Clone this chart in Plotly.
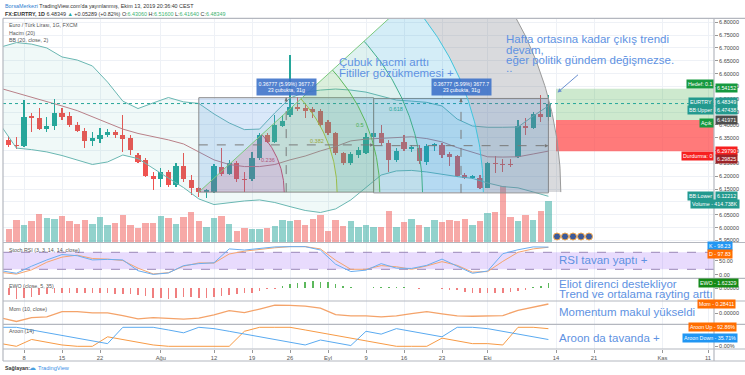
import numpy as np
import plotly.graph_objects as go

W, H = 745, 375
FONT = "Liberation Sans, Arial, sans-serif"

# ---------------- data ----------------
bar_idx = list(range(72))  # 2019-07-04 ... 2019-10-11, trading days
opens = [6.342, 6.322, 6.318, 6.435, 6.426, 6.383, 6.397, 6.445, 6.435, 6.399,
         6.378, 6.339, 6.347, 6.361, 6.374, 6.361, 6.348, 6.283, 6.263, 6.201,
         6.188, 6.218, 6.166, 6.240, 6.186, 6.153, 6.138, 6.138, 6.238, 6.209,
         6.253, 6.190, 6.188, 6.270, 6.361, 6.335, 6.396, 6.439, 6.469, 6.465,
         6.461, 6.456, 6.413, 6.370, 6.290, 6.253, 6.283, 6.290, 6.355, 6.370,
         6.331, 6.264, 6.335, 6.305, 6.311, 6.257, 6.318, 6.322, 6.287, 6.279,
         6.205, 6.192, 6.192, 6.153, 6.253, 6.248, 6.248, 6.274, 6.396, 6.387,
         6.443, 6.4306]
highs = [6.357, 6.352, 6.497, 6.448, 6.465, 6.432, 6.500, 6.465, 6.452, 6.413,
         6.387, 6.374, 6.387, 6.383, 6.380, 6.439, 6.361, 6.289, 6.270, 6.218,
         6.231, 6.225, 6.251, 6.290, 6.205, 6.160, 6.149, 6.248, 6.310, 6.262,
         6.260, 6.218, 6.296, 6.368, 6.368, 6.439, 6.439, 6.672, 6.508, 6.480,
         6.470, 6.461, 6.420, 6.374, 6.296, 6.296, 6.316, 6.368, 6.380, 6.400,
         6.342, 6.309, 6.361, 6.322, 6.322, 6.326, 6.329, 6.329, 6.296, 6.283,
         6.212, 6.205, 6.205, 6.257, 6.279, 6.266, 6.266, 6.420, 6.426, 6.452,
         6.517, 6.516]
lows = [6.313, 6.306, 6.315, 6.374, 6.380, 6.374, 6.380, 6.420, 6.393, 6.374,
        6.309, 6.318, 6.329, 6.352, 6.350, 6.296, 6.283, 6.251, 6.196, 6.147,
        6.160, 6.160, 6.160, 6.179, 6.127, 6.121, 6.114, 6.134, 6.201, 6.205,
        6.179, 6.140, 6.182, 6.262, 6.331, 6.331, 6.393, 6.432, 6.456, 6.427,
        6.427, 6.393, 6.361, 6.283, 6.245, 6.245, 6.270, 6.287, 6.348, 6.322,
        6.218, 6.257, 6.300, 6.296, 6.249, 6.245, 6.300, 6.270, 6.240, 6.196,
        6.188, 6.188, 6.149, 6.153, 6.212, 6.218, 6.237, 6.270, 6.361, 6.383,
        6.413, 6.4164]
closes = [6.322, 6.318, 6.432, 6.426, 6.383, 6.397, 6.445, 6.432, 6.400, 6.378,
          6.339, 6.348, 6.360, 6.374, 6.361, 6.345, 6.302, 6.257, 6.201, 6.188,
          6.218, 6.166, 6.240, 6.188, 6.156, 6.138, 6.147, 6.240, 6.209, 6.253,
          6.188, 6.186, 6.270, 6.361, 6.335, 6.400, 6.417, 6.469, 6.463, 6.456,
          6.452, 6.400, 6.368, 6.290, 6.253, 6.287, 6.303, 6.355, 6.370, 6.329,
          6.264, 6.300, 6.305, 6.313, 6.261, 6.318, 6.326, 6.283, 6.276, 6.201,
          6.192, 6.201, 6.153, 6.253, 6.248, 6.245, 6.245, 6.396, 6.387, 6.443,
          6.431, 6.48349]
volumes_k = [137, 230, 180, 213, 290, 247, 237, 263, 213, 187,
             230, 190, 257, 180, 197, 280, 180, 147, 197, 197,
             270, 247, 190, 257, 303, 213, 157, 250, 270, 190,
             113, 147, 137, 137, 147, 170, 230, 213, 230, 180,
             237, 277, 113, 223, 170, 213, 157, 180, 157, 157,
             313, 157, 203, 240, 180, 157, 230, 203, 223, 213,
             240, 180, 213, 297, 303, 563, 257, 213, 280, 230,
             313, 414.7]
ewo_vals = [-1.96, -3.14, -2.94, -2.45, -1.96, -1.67, -1.47, -1.27, -1.27, -1.37,
            -1.27, -1.27, -1.47, -1.47, -1.67, -1.67, -1.67, -1.96, -2.25, -2.75,
            -2.94, -3.14, -2.94, -2.65, -2.55, -2.94, -2.94, -2.45, -2.25, -1.96,
            -1.67, -1.47, -1.27, -0.78, -0.29, -0.10, 0.69, 1.27, 1.67, 1.96,
            2.16, 1.96, 1.76, 1.27, 0.78, 0.29, 0.20, 0.05, 0.39, 0.49,
            0.39, 0.49, 0.29, 0.10, -0.29, -0.05, -0.05, -0.20, -0.49, -0.59,
            -0.98, -1.27, -1.47, -1.47, -1.47, -1.27, -0.98, -0.78, -0.49, 0.30,
            0.69, 1.62329]

ind_idx = list(range(-1, 72, 2))  # indicator lines read every second bar
bb_upper = [6.704, 6.721, 6.715, 6.700, 6.665, 6.653, 6.630, 6.567, 6.493, 6.464,
            6.486, 6.507, 6.490, 6.484, 6.443, 6.408, 6.382, 6.384, 6.447, 6.505,
            6.528, 6.536, 6.540, 6.536, 6.528, 6.513, 6.497, 6.493, 6.488, 6.474,
            6.423, 6.396, 6.391, 6.391, 6.392, 6.435, 6.47438]
bb_basis = [6.542, 6.525, 6.511, 6.493, 6.474, 6.456, 6.433, 6.408, 6.384, 6.367,
            6.355, 6.342, 6.326, 6.295, 6.264, 6.246, 6.238, 6.238, 6.246, 6.264,
            6.279, 6.299, 6.316, 6.338, 6.345, 6.348, 6.351, 6.354, 6.347, 6.334,
            6.312, 6.293, 6.276, 6.275, 6.276, 6.287, 6.29825]
bb_lower = [6.396, 6.310, 6.304, 6.295, 6.281, 6.264, 6.246, 6.256, 6.283, 6.269,
            6.230, 6.193, 6.156, 6.112, 6.090, 6.098, 6.104, 6.108, 6.098, 6.082,
            6.067, 6.059, 6.073, 6.108, 6.158, 6.205, 6.221, 6.223, 6.217, 6.207,
            6.199, 6.192, 6.174, 6.160, 6.155, 6.139, 6.12212]
stoch_k = [15, 6, 31, 53, 72, 68, 53, 55, 53, 15, 2, 7, 33, 40, 43, 92, 88, 94, 99,
           100, 100, 88, 38, 12, 17, 40, 24, 23, 34, 56, 32, 6, 14, 75, 89, 99, 98.23]
stoch_d = [9, 3, 18, 45, 63, 70, 58, 56, 51, 24, 3.5, 8, 31, 42.5, 42, 74, 84, 91, 96,
           100, 100, 92, 52, 20, 20, 33, 29, 20, 32, 47, 34, 10, 12, 48, 80, 92, 97.83]
mom_vals = [-0.14, -0.25, -0.13, -0.11, 0.05, 0.05, 0.01, 0.01, -0.07, -0.17,
            -0.13, -0.15, -0.18, -0.15, -0.05, 0.08, 0.02, 0.13, 0.25, 0.24,
            0.22, 0.16, -0.04, -0.08, -0.08, -0.11, -0.08, -0.01, 0.05, -0.02,
            -0.08, -0.09, -0.07, -0.07, 0.09, 0.18, 0.28411]
aroon_up = [14, 0, 36, 21, 7, 0, 0, 50, 36, 21, 7, 0, 0, 0, 0, 0, 79, 100, 100,
            100, 86, 71, 57, 43, 29, 14, 0, 0, 0, 43, 29, 14, 14, 7, 100, 100, 92.86]
aroon_down = [100, 100, 86, 71, 57, 43, 29, 14, 100, 100, 100, 86, 71, 100, 93, 79, 64,
              50, 36, 21, 7, 33, 18, 4, 79, 64, 93, 79, 64, 50, 100, 100, 93, 79, 64,
              50, 35.71]

tick_pos = [2, 7, 12, 20, 27, 32, 37, 42, 47, 52, 57, 63, 72, 77, 86, 92]
tick_text = ["8", "15", "22", "Ağu", "12", "19", "26", "Eyl", "9", "16", "23", "Eki",
             "14", "21", "Kas", "11"]
price_ticks = [5.95, 6.00, 6.05, 6.10, 6.15, 6.20, 6.25, 6.30, 6.35, 6.40, 6.45, 6.50,
               6.55, 6.60, 6.65, 6.70, 6.75, 6.80]
last_price = 6.48349
pos_start = 72
pos_target, pos_entry, pos_stop = 6.54152, 6.41971, 6.29790
range1 = (25, 48, 6.1385, 6.5063)
range2 = (48, 71, 6.1355, 6.5033)
fib_levels = [0, 0.236, 0.382, 0.5, 0.618, 0.786, 1.0]

# ---------------- pixel geometry ----------------
X0, X1 = 3.0, 714.0
Y_MAIN = (18.3, 242.5)
Y_STO = (242.5, 278.3)
Y_EWO = (278.3, 301.0)
Y_MOM = (301.0, 324.3)
Y_AR = (324.3, 349.0)
BAR_PX, FIRST_BAR_PX = 7.6, 8.8
PRICE_PX, PRICE_REF, PRICE_REF_PX = 256.7, 6.80, 22.3


def k_to_px(k):
    return FIRST_BAR_PX + np.asarray(k) * BAR_PX


def px_to_k(px):
    return (np.asarray(px) - FIRST_BAR_PX) / BAR_PX


def price_at(py):
    return PRICE_REF - (np.asarray(py) - PRICE_REF_PX) / PRICE_PX


def p_to_py(p):
    return PRICE_REF_PX + (PRICE_REF - p) * PRICE_PX


def dom(a, b):
    return [1 - b / H, 1 - a / H]


def px(x):
    return x / W


def py(y):
    return 1 - y / H


xr = [float(px_to_k(X0)), float(px_to_k(X1))]
yr_main = [float(price_at(Y_MAIN[1])), float(price_at(Y_MAIN[0]))]
vol_range = [0, (Y_MAIN[1] - Y_MAIN[0]) * 10.0]
sto_range = [80 - (Y_STO[1] - 252.3) / 0.28333, 80 - (Y_STO[0] - 252.3) / 0.28333]
ewo_range = [-(Y_EWO[1] - 288.3) / 3.4, -(Y_EWO[0] - 288.3) / 3.4]
mom_range = [-(Y_MOM[1] - 313.3) / 32.7, -(Y_MOM[0] - 313.3) / 32.7]
ar_range = [-(Y_AR[1] - 346.3) / 0.19, -(Y_AR[0] - 346.3) / 0.19]

UP, DN = "#26a69a", "#ef5350"
GRID = "#eef1f6"

fig = go.Figure()

# ---------------- volume (base axis) ----------------
vol_cols = ["rgba(38,166,154,0.5)" if c >= o else "rgba(239,83,80,0.5)"
            for o, c in zip(opens, closes)]
fig.add_trace(go.Bar(x=bar_idx, y=volumes_k, width=0.84, yaxis="y", xaxis="x",
                     marker=dict(color=vol_cols, line=dict(width=0))))

# ---------------- main price pane (y2) ----------------
fig.add_trace(go.Scatter(x=ind_idx, y=bb_upper, mode="lines", yaxis="y2",
                         line=dict(color="#6ab7b2", width=1)))
fig.add_trace(go.Scatter(x=ind_idx, y=bb_lower, mode="lines", yaxis="y2", fill="tonexty",
                         fillcolor="rgba(38,166,154,0.07)",
                         line=dict(color="#6ab7b2", width=1)))
fig.add_trace(go.Scatter(x=ind_idx, y=bb_basis, mode="lines", yaxis="y2",
                         line=dict(color="#b98088", width=1)))

# long position tool
fig.add_trace(go.Scatter(x=[pos_start, pos_start, 120, 120], y=[pos_entry, pos_target, pos_target, pos_entry],
                         fill="toself", fillcolor="rgba(76,175,80,0.28)", mode="lines",
                         line=dict(width=0), yaxis="y2"))
fig.add_trace(go.Scatter(x=[pos_start, pos_start, 120, 120], y=[pos_stop, pos_entry, pos_entry, pos_stop],
                         fill="toself", fillcolor="rgba(255,70,70,0.72)", mode="lines",
                         line=dict(width=0), yaxis="y2"))
# last price line
fig.add_trace(go.Scatter(x=xr, y=[last_price, last_price], mode="lines", yaxis="y2",
                         line=dict(color="#26a69a", width=1, dash="dot")))

# candles
cols = [UP if c >= o else DN for o, c in zip(opens, closes)]
fig.add_trace(go.Bar(x=bar_idx, y=[h - l for h, l in zip(highs, lows)], base=lows, width=0.14,
                     yaxis="y2", marker=dict(color=cols, line=dict(width=0))))
fig.add_trace(go.Bar(x=bar_idx, y=[max(abs(c - o), 0.0025) for o, c in zip(opens, closes)],
                     base=[min(o, c) for o, c in zip(opens, closes)], width=0.66,
                     yaxis="y2", marker=dict(color=cols, line=dict(width=0))))

# date & price range rectangles
for (k0, k1, p0, p1) in (range1, range2):
    fig.add_trace(go.Scatter(x=[k0, k1, k1, k0, k0], y=[p0, p0, p1, p1, p0], fill="toself",
                             fillcolor="rgba(70,140,225,0.2)", mode="lines", yaxis="y2",
                             line=dict(color="#8c8c8c", width=1)))

# fib wedge
cx, cy = float(k_to_px(range1[0])), float(p_to_py(range1[2]))
WEDGE_R = 362.0
WEDGE_ANG = np.radians(42.4)
th = np.linspace(0, WEDGE_ANG, 90)
wedge_fills = ["rgba(200,60,100,0.18)", "rgba(139,195,74,0.16)", "rgba(76,175,80,0.2)",
               "rgba(38,166,154,0.15)", "rgba(0,150,210,0.17)", "rgba(115,118,128,0.27)"]
wedge_lines = ["#b0587a", "#9bbd4a", "#5cb85c", "#3fae8c", "#40c4dc", "#9a9a9a"]
for i in range(len(fib_levels) - 1):
    r1, r2 = fib_levels[i] * WEDGE_R, fib_levels[i + 1] * WEDGE_R
    xs = np.concatenate([cx + r2 * np.cos(th), cx + r1 * np.cos(th[::-1])])
    ys = np.concatenate([cy - r2 * np.sin(th), cy - r1 * np.sin(th[::-1])])
    fig.add_trace(go.Scatter(x=px_to_k(xs), y=price_at(ys), fill="toself", mode="lines",
                             fillcolor=wedge_fills[i], line=dict(width=0), yaxis="y2"))
for i in range(1, len(fib_levels)):
    r = fib_levels[i] * WEDGE_R
    fig.add_trace(go.Scatter(x=px_to_k(cx + r * np.cos(th)), y=price_at(cy - r * np.sin(th)),
                             mode="lines", line=dict(color=wedge_lines[i - 1], width=1), yaxis="y2"))
fig.add_trace(go.Scatter(x=px_to_k([cx, cx + WEDGE_R * np.cos(WEDGE_ANG)]),
                         y=price_at([cy, cy - WEDGE_R * np.sin(WEDGE_ANG)]),
                         mode="lines", line=dict(color="#7cc97e", width=1), yaxis="y2"))

# dashed guides in ranges
for (k0, k1, p0, p1) in (range1, range2):
    km, pm = (k0 + k1) / 2, (p0 + p1) / 2
    fig.add_trace(go.Scatter(x=[km, km], y=[p0, p1], mode="lines", yaxis="y2",
                             line=dict(color="#7a7a7a", width=1, dash="dash")))
    fig.add_trace(go.Scatter(x=[k0, k1], y=[pm, pm], mode="lines", yaxis="y2",
                             line=dict(color="#7a7a7a", width=1, dash="dash")))

# ---------------- Stoch RSI (y3) ----------------
fig.add_trace(go.Scatter(x=[xr[0], xr[1], xr[1], xr[0]], y=[20, 20, 80, 80], fill="toself",
                         fillcolor="rgba(150,90,245,0.22)", mode="lines", line=dict(width=0),
                         yaxis="y3"))
for lvl in (20, 80):
    fig.add_trace(go.Scatter(x=xr, y=[lvl, lvl], mode="lines", yaxis="y3",
                             line=dict(color="#9a88b8", width=1, dash="dash")))
fig.add_trace(go.Scatter(x=ind_idx, y=stoch_d, mode="lines", yaxis="y3",
                         line=dict(color="#f5a46e", width=1)))
fig.add_trace(go.Scatter(x=ind_idx, y=stoch_k, mode="lines", yaxis="y3",
                         line=dict(color="#6aaef0", width=1)))

# ---------------- EWO (y4) ----------------
fig.add_trace(go.Bar(x=bar_idx, y=ewo_vals, width=0.2, yaxis="y4",
                     marker=dict(color=["#5cb85c" if v >= 0 else "#f07f7f" for v in ewo_vals],
                                 line=dict(width=0))))

# ---------------- Mom (y5) ----------------
fig.add_trace(go.Scatter(x=ind_idx, y=mom_vals, mode="lines", yaxis="y5",
                         line=dict(color="#f4a36a", width=1.3)))

# ---------------- Aroon (y6) ----------------
fig.add_trace(go.Scatter(x=ind_idx, y=aroon_up, mode="lines", yaxis="y6",
                         line=dict(color="#f79a45", width=1)))
fig.add_trace(go.Scatter(x=ind_idx, y=aroon_down, mode="lines", yaxis="y6",
                         line=dict(color="#5aaaf0", width=1)))

# ---------------- axes ----------------
axfont = dict(size=5.5, color="#444", family=FONT)
common_y = dict(anchor="x", side="right", zeroline=False, ticks="outside", ticklen=3,
                tickcolor="#999", tickfont=axfont, fixedrange=True)
layout = dict(
    width=W, height=H, autosize=False, margin=dict(l=0, r=0, t=0, b=0),
    paper_bgcolor="white", plot_bgcolor="white", showlegend=False,
    barmode="overlay", bargap=0, hovermode=False, font=dict(family=FONT),
    xaxis=dict(domain=[X0 / W, X1 / W], range=xr, anchor="y6", tickmode="array",
               tickvals=tick_pos, ticktext=tick_text, showgrid=True, gridcolor=GRID,
               gridwidth=1, zeroline=False, ticks="outside", ticklen=3, tickcolor="#999",
               tickfont=dict(size=5.8, color="#555", family=FONT), showline=False,
               fixedrange=True),
    yaxis=dict(domain=dom(*Y_MAIN), range=vol_range, visible=False, fixedrange=True),
    yaxis2=dict(overlaying="y", range=yr_main, tickmode="array", tickvals=price_ticks,
                ticktext=[f"{v:.5f}" for v in price_ticks], showgrid=True, gridcolor=GRID,
                **common_y),
    yaxis3=dict(domain=dom(*Y_STO), range=sto_range, tickmode="array", tickvals=[0, 50],
                ticktext=["0.00", "50.00"], showgrid=False, **common_y),
    yaxis4=dict(domain=dom(*Y_EWO), range=ewo_range, tickmode="array", tickvals=[0],
                ticktext=["0.00000"], showgrid=False, **common_y),
    yaxis5=dict(domain=dom(*Y_MOM), range=mom_range, tickmode="array", tickvals=[0],
                ticktext=["0.00000"], showgrid=False, **common_y),
    yaxis6=dict(domain=dom(*Y_AR), range=ar_range, tickmode="array", tickvals=[0],
                ticktext=["0.00%"], showgrid=False, **common_y),
)
fig.update_layout(**layout)

# ---------------- frame lines ----------------
shapes = []
LC = "#b4b7bf"
for yy in (Y_MAIN[0], Y_STO[0], Y_EWO[0], Y_MOM[0], Y_AR[0], Y_AR[1], 361):
    shapes.append(dict(type="line", xref="paper", yref="paper", x0=px(X0), x1=1,
                       y0=py(yy), y1=py(yy), line=dict(color=LC, width=1.2)))
for xx in (X0, X1):
    shapes.append(dict(type="line", xref="paper", yref="paper", x0=px(xx), x1=px(xx),
                       y0=py(Y_MAIN[0]), y1=py(361), line=dict(color=LC, width=1.2)))
for cxp in (557, 565, 573, 581, 589):
    shapes.append(dict(type="circle", xref="paper", yref="paper", x0=px(cxp - 3.5),
                       x1=px(cxp + 3.5), y0=py(240), y1=py(233),
                       fillcolor="#3c5a9a", line=dict(color="#f2a548", width=1)))
fig.update_layout(shapes=shapes)

# ---------------- annotations ----------------
ann = []


def text(t, x, y, size=5.5, color="#555", anchor="left", **kw):
    ann.append(dict(text=t, x=px(x), y=py(y), xref="paper", yref="paper", showarrow=False,
                    xanchor=anchor, yanchor="middle",
                    font=dict(size=size, color=color, family=FONT), **kw))


text("<span style='color:#2f80d1'>BorsaMerkezi</span> TradingView.com'da yayınlanmış, "
     "Ekim 13, 2019 20:36:40 CEST", 3, 5.5, size=5.4, color="#333")
text("<b>FX:EURTRY, 1D</b> 6.48349 <span style='color:#26a69a'>▲</span> +0.05289 (+0.82%) "
     "O:<span style='color:#3cb371'>6.43060</span> H:<span style='color:#3cb371'>6.51600</span> "
     "L:<span style='color:#3cb371'>6.41640</span> C:<span style='color:#3cb371'>6.48349</span>",
     3, 13.5, size=5.4, color="#333")
text("Euro / Türk Lirası, 1G, FXCM", 7, 25, size=5.3)
text("Hacim (20)", 7, 32.5, size=5.3)
text("BB (20, close, 2)", 7, 39.7, size=5.3)
text("Stoch RSI (3, 3, 14, 14, close)", 7, 249.5, size=5.3)
text("EWO (close, 5, 35)", 7, 286, size=5.3)
text("Mom (10, close)", 7, 309, size=5.3)
text("Aroon (14)", 7, 331, size=5.3)
text("<b>Sağlayan:</b>", 3, 367.5, size=5.3, color="#333")
text("☁", 27, 367.5, size=7, color="#4a9fe0")
text("TradingView", 36, 367.5, size=5.6, color="#3a8ee6")

BLUE_TXT = "rgb(96,146,226)"
for t, yy in (("Çubuk hacmi arttı", 62.5), ("Fitiller gözükmemesi +", 72.5)):
    text(t, 337, yy, size=11.5, color=BLUE_TXT)
for t, yy in (("Hafta ortasına kadar çıkış trendi", 39), ("devam,", 49.5),
              ("eğer politik gündem değişmezse.", 59.5), ("..", 68)):
    text(t, 504, yy, size=11.5, color=BLUE_TXT)
text("RSI tavan yaptı +", 557, 260, size=11.5, color=BLUE_TXT)
text("Eliot direnci destekliyor", 557, 283.5, size=11.5, color=BLUE_TXT)
text("Trend ve ortalama rayting arttı", 557, 293.5, size=11.5, color=BLUE_TXT)
text("Momentum makul yükseldi", 557, 312, size=11.5, color=BLUE_TXT)
text("Aroon da tavanda +", 557, 337.5, size=11.5, color=BLUE_TXT)


def tag(t, x, y, bg, anchor="left"):
    ann.append(dict(text=t, x=px(x), y=py(y), xref="paper", yref="paper", showarrow=False,
                    xanchor=anchor, yanchor="middle", bgcolor=bg, borderpad=1,
                    font=dict(size=5.3, color="white", family=FONT)))


GREEN_T, TEAL_T, RED_T = "#16993f", "#23998e", "#f72020"
tag("Hedef: 0.1", X1 - 0.5, 83.5, GREEN_T, "right")
tag("6.54152", X1 + 1, 88, GREEN_T)
tag("EURTRY", X1 - 0.5, 102, TEAL_T, "right")
tag("6.48349", X1 + 1, 102, TEAL_T)
tag("BB:Upper", X1 - 0.5, 110, TEAL_T, "right")
tag("6.47438", X1 + 1, 110, TEAL_T)
tag("Açık", X1 - 0.5, 122.5, GREEN_T, "right")
tag("6.41971", X1 + 1, 119.5, "#4d4d4d")
tag("6.29790", X1 + 1, 151, RED_T)
tag("Durdurma: 0", X1 - 0.5, 156, RED_T, "right")
tag("6.29825", X1 + 1, 159, "#9c2428")
tag("BB:Lower", X1 - 0.5, 196, TEAL_T, "right")
tag("6.12212", X1 + 1, 196, TEAL_T)
tag("Volume - 414.738K", 714.5, 204, TEAL_T, "center")
tag("K - 98.23", 719.5, 246.2, "#2196f3", "center")
tag("D - 97.83", 719.5, 253.7, "#ff6d00", "center")
tag("EWO - 1.62329", 718.5, 282.5, "#168a16", "center")
tag("Mom - 0.28411", 716, 304.2, "#ff6d00", "center")
tag("Aroon Up - 92.86%", 712.5, 327, "#ff6d00", "center")
tag("Aroon Down - 35.71%", 709.5, 337.8, "#2196f3", "center")

# range label boxes
for (k0, k1, p0, p1) in (range1, range2):
    ann.append(dict(text="0.36777 (5.99%) 3677.7<br>23 çubukta, 31g", x=(k0 + k1) / 2,
                    y=float(price_at(87)), xref="x", yref="y2", showarrow=False,
                    xanchor="center", yanchor="middle", bgcolor="rgba(58,112,200,0.88)",
                    borderpad=1.5, font=dict(size=5.2, color="white", family=FONT)))
    km, pm = (k0 + k1) / 2, (p0 + p1) / 2
    ann.append(dict(text="", x=km, y=p1, xref="x", yref="y2", showarrow=True, ax=0, ay=5,
                    arrowhead=2, arrowsize=0.7, arrowwidth=1, arrowcolor="#777"))
    ann.append(dict(text="", x=k1, y=pm, xref="x", yref="y2", showarrow=True, ax=-5, ay=0,
                    arrowhead=2, arrowsize=0.7, arrowwidth=1, arrowcolor="#777"))

# fib level labels
fib_label_cols = ["#b0587a", "#9aa83a", "#4caf50", "#26a69a"]
lab_ang = np.radians(22)
for lvl, col in zip(fib_levels[1:5], fib_label_cols):
    r = lvl * WEDGE_R - 1
    ann.append(dict(text=str(lvl), x=float(px_to_k(cx + r * np.cos(lab_ang))),
                    y=float(price_at(cy - r * np.sin(lab_ang))), xref="x", yref="y2",
                    showarrow=False, xanchor="right", yanchor="middle",
                    font=dict(size=5.5, color=col, family=FONT)))

# arrow from note to position tool
ann.append(dict(text="", x=float(px_to_k(557.5)), y=float(price_at(92.5)), xref="x", yref="y2",
                showarrow=True, ax=22, ay=-19, arrowhead=2, arrowsize=0.8, arrowwidth=1,
                arrowcolor="#6a8fcf"))

fig.update_layout(annotations=ann)
fig.write_html("out.html", config={"displayModeBar": False, "staticPlot": True},
               post_script="document.body.style.margin='0';document.body.style.padding='0';"
                           "document.body.style.overflow='hidden';")
